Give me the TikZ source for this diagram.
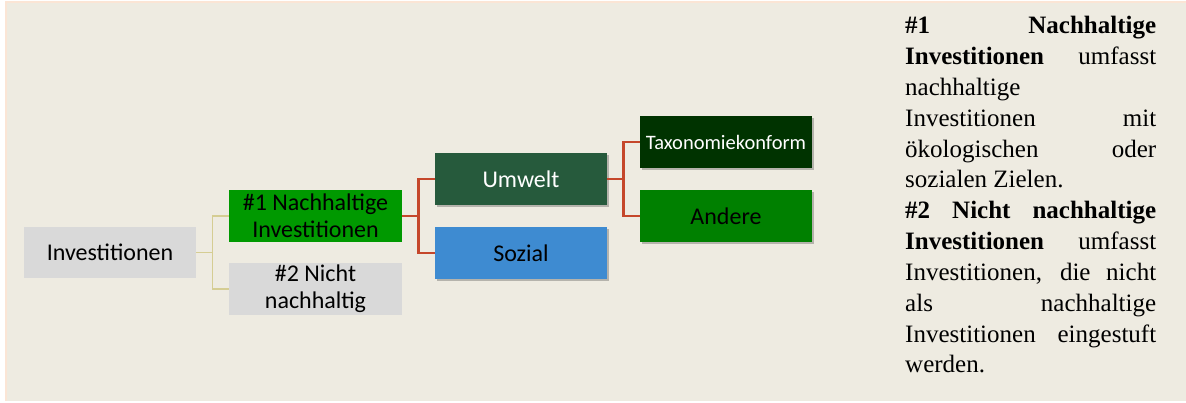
\documentclass[tikz,border=0pt]{standalone}
\usepackage{fontspec}
\setmainfont{Liberation Serif}
\newfontfamily\boxfont{Carlito}
\usetikzlibrary{shadows}
\definecolor{bgbeige}{HTML}{EEEBE1}
\definecolor{bgpeach}{HTML}{FBE5D5}
\definecolor{boxgray}{HTML}{D9D9D9}
\definecolor{greenA}{HTML}{009900}
\definecolor{umweltc}{HTML}{265A3C}
\definecolor{sozialc}{HTML}{3E8BD1}
\definecolor{taxc}{HTML}{003300}
\definecolor{anderec}{HTML}{008000}
\definecolor{redline}{HTML}{C5472B}
\definecolor{oliveline}{HTML}{D5CD93}
\tikzset{
  box/.style={rectangle, minimum width=172pt, minimum height=52pt, inner sep=0pt,
    align=center, font=\boxfont\fontsize{24}{27}\selectfont},
  shbox/.style={box, drop shadow={shadow xshift=2pt, shadow yshift=-2pt, opacity=0.35, fill=black!70}},
  lvlone/.style={draw=oliveline, line width=1.3pt},
  lvltwo/.style={draw=redline, line width=2.5pt},
  txt/.style={anchor=base west, inner sep=0pt, font=\fontsize{25}{30}\selectfont}
}
\begin{document}
\begin{tikzpicture}[x=1pt,y=-1pt]
\useasboundingbox (0,0) rectangle (1186,403);
\fill[white] (0,0) rectangle (1186,403);
\fill[bgpeach] (5,1) rectangle (1186,401);
\fill[bgbeige] (7,3) rectangle (1186,401);

\node[box, fill=boxgray, minimum width=172pt, minimum height=51pt] (inv) at (110,252.5) {Investitionen};
\node[box, fill=greenA, minimum width=173pt] (n1) at (315.5,216) {\#1 Nachhaltige\\Investitionen};
\node[box, fill=boxgray, minimum width=173pt] (n2) at (315.5,289) {\#2 Nicht\\nachhaltig};
\node[shbox, fill=umweltc, text=white] (umw) at (521,179) {Umwelt};
\node[shbox, fill=sozialc] (soz) at (521,253) {Sozial};
\node[shbox, fill=taxc, text=white, font=\boxfont\fontsize{20.5}{24}\selectfont] (tax) at (726,142) {Taxonomiekonform};
\node[shbox, fill=anderec] (and) at (726,216) {Andere};

\draw[lvlone] (inv.east) -- ([xshift=16.5pt]inv.east) coordinate (j1) |- (n1.west);
\draw[lvlone] (j1) |- (n2.west);
\draw[lvltwo] (n1.east) -- ([xshift=16.5pt]n1.east) coordinate (j2) |- (umw.west);
\draw[lvltwo] (j2) |- (soz.west);
\draw[lvltwo] (umw.east) -- ([xshift=16.5pt]umw.east) coordinate (j3) |- (tax.west);
\draw[lvltwo] (j3) |- (and.west);

\node[txt] (t1) at (905,34) {\makebox[251pt][s]{\textbf{\#1 Nachhaltige}}};
\node[txt] (t2) at (905,64.8) {\makebox[251pt][s]{\textbf{Investitionen} umfasst}};
\node[txt] (t3) at (905,95.6) {nachhaltige};
\node[txt] (t4) at (905,126.4) {\makebox[251pt][s]{Investitionen mit}};
\node[txt] (t5) at (905,157.2) {\makebox[251pt][s]{ökologischen oder}};
\node[txt] (t6) at (905,188) {sozialen Zielen.};
\node[txt] (t7) at (905,218.8) {\makebox[251pt][s]{\textbf{\#2 Nicht nachhaltige}}};
\node[txt] (t8) at (905,249.6) {\makebox[251pt][s]{\textbf{Investitionen} umfasst}};
\node[txt] (t9) at (905,280.4) {\makebox[251pt][s]{Investitionen, die nicht}};
\node[txt] (t10) at (905,311.2) {\makebox[251pt][s]{als nachhaltige}};
\node[txt] (t11) at (905,342) {\makebox[251pt][s]{Investitionen eingestuft}};
\node[txt] (t12) at (905,372.8) {werden.};
\end{tikzpicture}
\end{document}
